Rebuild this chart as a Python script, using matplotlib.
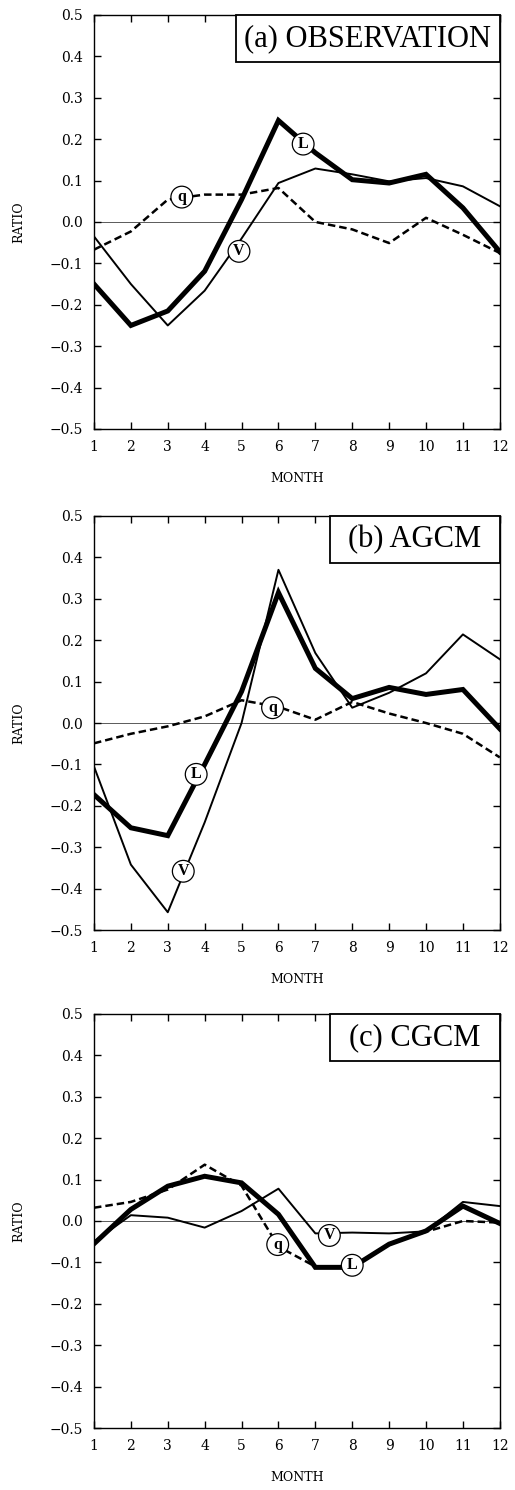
import matplotlib
matplotlib.use('Agg')
import matplotlib.pyplot as plt
from matplotlib.patches import Rectangle
import numpy as np

# months on the x axis
months = np.arange(1, 13)

# (a) observation
obs_L = [-0.15, -0.25, -0.215, -0.119, 0.054, 0.245, 0.167, 0.102, 0.094, 0.115, 0.034, -0.072]
obs_V = [-0.035, -0.15, -0.25, -0.166, -0.04, 0.094, 0.129, 0.115, 0.098, 0.106, 0.086, 0.038]
obs_q = [-0.067, -0.023, 0.054, 0.066, 0.066, 0.082, 0.0, -0.018, -0.051, 0.01, -0.031, -0.075]

# (b) AGCM
agcm_L = [-0.173, -0.253, -0.272, -0.1, 0.076, 0.315, 0.132, 0.059, 0.086, 0.069, 0.081, -0.014]
agcm_V = [-0.105, -0.342, -0.457, -0.24, 0.0, 0.37, 0.169, 0.037, 0.073, 0.12, 0.214, 0.154]
agcm_q = [-0.049, -0.026, -0.008, 0.016, 0.055, 0.039, 0.008, 0.051, 0.023, 0.0, -0.026, -0.083]

# (c) CGCM
cgcm_L = [-0.055, 0.028, 0.084, 0.108, 0.092, 0.016, -0.112, -0.112, -0.056, -0.024, 0.036, -0.006]
cgcm_V = [-0.05, 0.014, 0.008, -0.016, 0.024, 0.078, -0.03, -0.028, -0.03, -0.025, 0.046, 0.036]
cgcm_q = [0.032, 0.046, 0.076, 0.136, 0.085, -0.062, -0.11, -0.11, -0.055, -0.026, 0.0, -0.004]

titles = ['(a) OBSERVATION', '(b) AGCM', '(c) CGCM']
box_left = [0.35, 0.581, 0.581]

# circled labels: (letter, month, value)
labels_a = [('L', 6.67, 0.188), ('q', 3.38, 0.060), ('V', 4.93, -0.071)]
labels_b = [('q', 5.84, 0.037), ('L', 3.77, -0.124), ('V', 3.42, -0.358)]
labels_c = [('V', 7.38, -0.035), ('q', 5.98, -0.057), ('L', 8.0, -0.107)]

panels = [(obs_L, obs_V, obs_q, labels_a),
          (agcm_L, agcm_V, agcm_q, labels_b),
          (cgcm_L, cgcm_V, cgcm_q, labels_c)]

yticks = np.round(np.arange(-0.5, 0.51, 0.1), 1)
ytick_text = [('%.1f' % abs(v)) if v >= 0 else '\u2212%.1f' % abs(v) for v in yticks]

fig = plt.figure(figsize=(5.15, 14.9), dpi=100)
bottoms = [0.7121, 0.3758, 0.0416]
tick_font = 'DejaVu Serif'

for i, (L, V, q, labs) in enumerate(panels):
    ax = fig.add_axes([0.1825, bottoms[i], 0.788, 0.2779])
    ax.axhline(0, color='0.35', lw=0.7, zorder=1)
    ax.plot(months, q, color='black', lw=1.8, ls=(0, (3, 1.6)), zorder=2)
    ax.plot(months, V, color='black', lw=1.4, zorder=3)
    ax.plot(months, L, color='black', lw=3.6, zorder=4, solid_joinstyle='miter')
    for txt, x, y in labs:
        ax.text(x, y, txt, ha='center', va='center', fontsize=11.5, fontweight='bold',
                family='Liberation Serif', zorder=6,
                bbox=dict(boxstyle='circle,pad=0.18', fc='white', ec='black', lw=0.9))

    ax.set_xlim(1, 12)
    ax.set_ylim(-0.5, 0.5)
    ax.set_xticks(months)
    ax.set_yticks(yticks)
    ax.set_yticklabels(ytick_text)
    ax.tick_params(direction='in', length=5, width=1.0, top=True, right=True,
                   labelsize=10, pad=8)
    for lab in ax.get_xticklabels() + ax.get_yticklabels():
        lab.set_family(tick_font)
    for s in ax.spines.values():
        s.set_linewidth(1.0)

    ax.set_xlabel('MONTH', family=tick_font, fontsize=9)
    ax.set_ylabel('RATIO', family=tick_font, fontsize=9)
    ax.xaxis.set_label_coords(0.5, -0.104)
    ax.yaxis.set_label_coords(-0.17, 0.5)

    # title box in the upper right corner
    ax.add_patch(Rectangle((box_left[i], 0.8865), 1 - box_left[i], 0.1135,
                           transform=ax.transAxes, fc='white', ec='black', lw=1.3,
                           zorder=7, clip_on=False))
    ax.text((box_left[i] + 1) / 2, 0.8865 + 0.1135 / 2, titles[i],
            transform=ax.transAxes, ha='center', va='center', fontsize=22,
            family='Liberation Serif', zorder=8)

fig.savefig('out.png', dpi=100)
